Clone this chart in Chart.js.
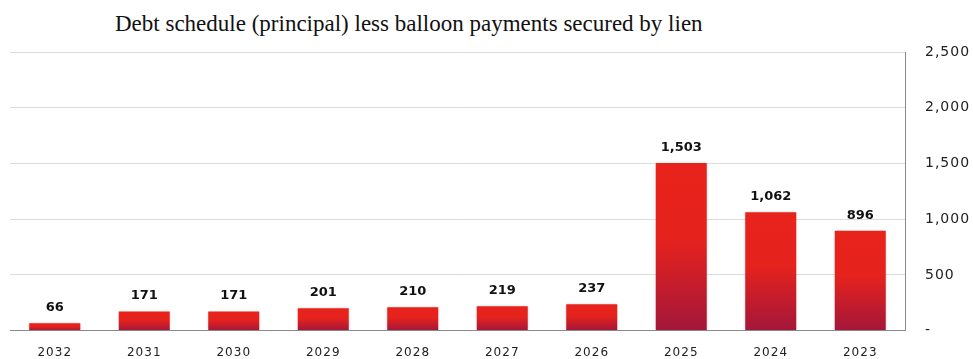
<!DOCTYPE html>
<html>
<head>
<meta charset="utf-8">
<script src="https://cdn.jsdelivr.net/npm/chart.js@4"></script>
<style>
  html, body { margin: 0; padding: 0; background: #fff; }
  #wrap { position: relative; width: 973px; height: 359px; }
  #title { position: absolute; left: 115px; top: 11px; font: 23px 'Liberation Serif', 'Times New Roman', serif; color: #111; white-space: nowrap; }
  canvas { position: absolute; left: 0; top: 0; }
</style>
</head>
<body>
<div id="wrap">
  <div id="title">Debt schedule (principal) less balloon payments secured by lien</div>
  <canvas id="debtChart" width="973" height="359"></canvas>
</div>
<script>
const years = ['2032', '2031', '2030', '2029', '2028', '2027', '2026', '2025', '2024', '2023'];
const principal = [66, 171, 171, 201, 210, 219, 237, 1503, 1062, 896];
const yTicks = [0, 500, 1000, 1500, 2000, 2500];

const fmt = v => v.toLocaleString('en-US');

// gradient per bar: bright red at top, dark crimson at the base
function barFill(context) {
    const chart = context.chart;
    const y = chart.scales.y;
    if (!y || context.type !== 'data') return '#e8231c';
    const top = y.getPixelForValue(context.parsed.y);
    const base = y.getPixelForValue(0);
    if (!isFinite(top) || !isFinite(base) || base - top < 1) return '#e8231c';
    const g = chart.ctx.createLinearGradient(0, top, 0, base);
    g.addColorStop(0, '#e8231c');
    g.addColorStop(0.45, '#e6221d');
    g.addColorStop(1, '#a3173a');
    return g;
}

// tick font in the original is spaced out a bit
const spacing = {
    id: 'spacing',
    beforeDraw(chart) { chart.ctx.letterSpacing = '1px'; },
    afterDraw(chart) { chart.ctx.letterSpacing = '0px'; }
};

const barShadow = {
    id: 'barShadow',
    beforeDatasetsDraw(chart) {
        const ctx = chart.ctx;
        ctx.save();
        ctx.shadowColor = 'rgba(0,0,0,0.22)';
        ctx.shadowBlur = 3;
    },
    afterDatasetsDraw(chart) { chart.ctx.restore(); }
};

const valueLabels = {
    id: 'valueLabels',
    afterDatasetsDraw(chart) {
        const ctx = chart.ctx;
        const meta = chart.getDatasetMeta(0);
        ctx.save();
        ctx.letterSpacing = '0px';
        ctx.font = 'bold 13px "DejaVu Sans", Verdana, sans-serif';
        ctx.fillStyle = '#111';
        ctx.textAlign = 'center';
        ctx.textBaseline = 'bottom';
        meta.data.forEach((bar, i) => {
            ctx.fillText(fmt(principal[i]), bar.x, bar.y - 9);
        });
        ctx.restore();
    }
};

new Chart(document.getElementById('debtChart').getContext('2d'), {
    type: 'bar',
    data: {
        labels: years,
        datasets: [{
            data: principal,
            backgroundColor: barFill,
            borderWidth: 0,
            categoryPercentage: 1,
            barPercentage: 0.57
        }]
    },
    options: {
        responsive: false,
        animation: false,
        devicePixelRatio: 1,
        layout: { padding: { top: 52, left: 10, right: 0, bottom: 0 } },
        plugins: { legend: { display: false }, title: { display: false }, tooltip: { enabled: false } },
        scales: {
            x: {
                grid: { display: false, drawTicks: false },
                border: { display: true, color: '#8a8a8a', width: 1 },
                ticks: { color: '#222', padding: 15, font: { size: 12, family: '"DejaVu Sans", Verdana, sans-serif' } },
                afterFit(scale) { scale.height = 27; }
            },
            y: {
                position: 'right',
                min: 0,
                max: 2500,
                afterBuildTicks(scale) { scale.ticks = yTicks.map(v => ({ value: v })); },
                grid: { color: '#dcdcdc', drawTicks: false },
                border: { display: true, color: '#8a8a8a', width: 1 },
                ticks: {
                    color: '#222',
                    padding: 20,
                    font: { size: 14, family: '"DejaVu Sans", Verdana, sans-serif' },
                    callback: v => v === 0 ? '-' : fmt(v)
                },
                afterFit(scale) { scale.width = 68; }
            }
        }
    },
    plugins: [spacing, barShadow, valueLabels]
});
</script>
</body>
</html>
